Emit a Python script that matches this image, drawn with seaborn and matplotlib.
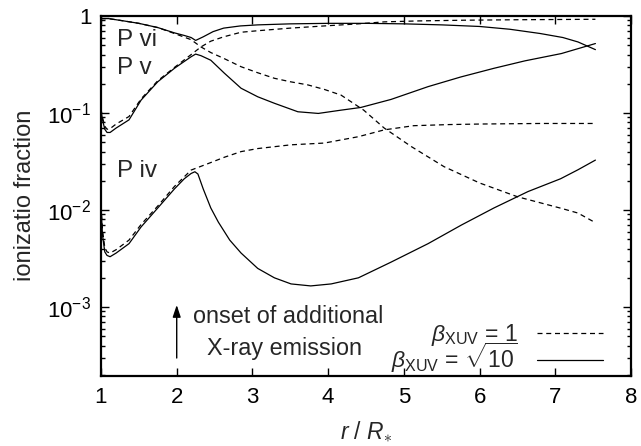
import numpy as np
import pandas as pd
import matplotlib
matplotlib.use("Agg")
import matplotlib.pyplot as plt
from matplotlib.lines import Line2D
from matplotlib.ticker import FixedLocator, LogLocator, NullFormatter
import seaborn as sns

# ---------------- data ----------------
# beta_XUV = sqrt(10)  (solid)
p6_s_r = [1.0, 1.1, 1.3, 1.5, 1.75, 1.97, 2.1, 2.19, 2.25, 2.35, 2.48, 2.62, 2.84, 3.07, 3.5,
          4.0, 4.5, 5.0, 5.5, 6.0, 6.4, 6.8, 7.1, 7.3, 7.53]
p6_s_f = [0.94, 0.94, 0.89, 0.84, 0.76, 0.67, 0.63, 0.60, 0.56, 0.61, 0.69, 0.75, 0.79, 0.81, 0.83,
          0.84, 0.84, 0.83, 0.81, 0.78, 0.73, 0.66, 0.60, 0.54, 0.45]

p5_s_r = [1.0, 1.02, 1.05, 1.08, 1.12, 1.2, 1.37, 1.53, 1.75, 1.97, 2.1, 2.19, 2.25, 2.32, 2.45,
          2.63, 2.85, 3.07, 3.29, 3.6, 3.87, 4.17, 4.43, 4.83, 5.32, 5.75, 6.19, 6.6, 7.08, 7.53]
p5_s_f = [0.107, 0.085, 0.068, 0.063, 0.063, 0.07, 0.085, 0.136, 0.21, 0.289, 0.34, 0.38, 0.405, 0.39, 0.35,
          0.257, 0.18, 0.147, 0.126, 0.103, 0.099, 0.107, 0.114, 0.138, 0.187, 0.235, 0.289, 0.345, 0.41, 0.52]

p4_s_r = [1.0, 1.02, 1.05, 1.08, 1.12, 1.2, 1.37, 1.53, 1.75, 1.97, 2.1, 2.19, 2.24, 2.28, 2.35, 2.45,
          2.55, 2.7, 2.85, 3.07, 3.29, 3.51, 3.77, 4.04, 4.4, 4.83, 5.32, 5.76, 6.19, 6.64, 7.07, 7.3, 7.53]
p4_s_f = [0.0105, 0.0055, 0.0037, 0.0034, 0.0033, 0.0036, 0.0045, 0.0067, 0.0105, 0.0165, 0.021, 0.0238, 0.0248, 0.0235, 0.0165, 0.0105,
          0.0075, 0.0049, 0.0036, 0.0025, 0.002, 0.00173, 0.00165, 0.00173, 0.002, 0.0029, 0.0045, 0.007, 0.0105, 0.0155, 0.021, 0.026, 0.0327]

# beta_XUV = 1  (dashed)
p6_d_r = [1.0, 1.1, 1.3, 1.5, 1.75, 1.97, 2.19, 2.32, 2.45, 2.62, 2.85, 3.07, 3.29, 3.5, 3.73, 3.95,
          4.17, 4.47, 4.74, 5.1, 5.53, 6.0, 6.5, 7.08, 7.3, 7.53]
p6_d_f = [0.94, 0.94, 0.89, 0.84, 0.76, 0.66, 0.57, 0.48, 0.42, 0.366, 0.30, 0.26, 0.228, 0.21, 0.195, 0.175,
          0.153, 0.107, 0.07, 0.045, 0.028, 0.019, 0.0137, 0.0104, 0.0093, 0.0074]

p5_d_r = [1.0, 1.02, 1.05, 1.08, 1.12, 1.2, 1.37, 1.53, 1.75, 1.97, 2.19, 2.32, 2.45, 2.62, 2.85, 3.07,
          3.5, 3.95, 4.4, 4.74, 5.2, 5.8, 6.5, 7.0, 7.53]
p5_d_f = [0.11, 0.09, 0.073, 0.068, 0.069, 0.077, 0.092, 0.14, 0.215, 0.295, 0.40, 0.48, 0.55, 0.61, 0.68, 0.705,
          0.75, 0.79, 0.83, 0.87, 0.89, 0.905, 0.915, 0.92, 0.925]

p4_d_r = [1.0, 1.02, 1.05, 1.08, 1.12, 1.2, 1.37, 1.53, 1.75, 1.97, 2.19, 2.41, 2.63, 2.85, 3.07, 3.51,
          3.95, 4.4, 4.74, 5.13, 5.6, 6.02, 6.8, 7.53]
p4_d_f = [0.011, 0.0062, 0.0041, 0.0037, 0.0036, 0.0039, 0.0049, 0.0071, 0.011, 0.0175, 0.0258, 0.030, 0.035, 0.040, 0.043, 0.047,
          0.049, 0.057, 0.067, 0.074, 0.076, 0.077, 0.078, 0.078]

ion_labels = ["P vi", "P v", "P iv"]
beta_labels = [r"$\beta_{\mathrm{XUV}}$ = 1", r"$\beta_{\mathrm{XUV}}$ = $\sqrt{10}$"]
x_ticks = [1, 2, 3, 4, 5, 6, 7, 8]
y_ticks = [1e-3, 1e-2, 1e-1, 1]
y_tick_labels = [r"$10^{-3}$", r"$10^{-2}$", r"$10^{-1}$", "1"]

# ---------------- build table ----------------
rows = []
def add(r, f, ion, beta):
    for a, b in zip(r, f):
        rows.append({"r": a, "frac": b, "ion": ion, "beta": beta})

add(p6_s_r, p6_s_f, "P vi", "sqrt10")
add(p5_s_r, p5_s_f, "P v", "sqrt10")
add(p4_s_r, p4_s_f, "P iv", "sqrt10")
add(p6_d_r, p6_d_f, "P vi", "one")
add(p5_d_r, p5_d_f, "P v", "one")
add(p4_d_r, p4_d_f, "P iv", "one")
df = pd.DataFrame(rows)

# ---------------- style ----------------
sns.set_theme(style="ticks")
plt.rcParams["font.family"] = ["Liberation Sans", "DejaVu Sans"]
plt.rcParams["mathtext.fontset"] = "custom"
plt.rcParams["mathtext.rm"] = "Liberation Sans"
plt.rcParams["mathtext.it"] = "Liberation Sans:italic"
plt.rcParams["mathtext.bf"] = "Liberation Sans:bold"

fig = plt.figure(figsize=(6.41, 4.46), dpi=100)
ax = fig.add_axes([101 / 641, 1 - 375.5 / 446, 530 / 641, 359.5 / 446])

dash_pat = (4, 3)
sns.lineplot(data=df, x="r", y="frac", units="ion", style="beta",
             dashes={"sqrt10": "", "one": dash_pat}, estimator=None,
             color="black", linewidth=0.9, ax=ax, legend=False, sort=True)

ax.set_yscale("log")
ax.set_xlim(1, 8)
ax.set_ylim(10 ** -3.706, 1)

ax.xaxis.set_major_locator(FixedLocator(x_ticks))
ax.set_xticklabels([str(t) for t in x_ticks])
ax.yaxis.set_major_locator(FixedLocator(y_ticks))
ax.set_yticklabels(y_tick_labels)
ax.yaxis.set_minor_locator(LogLocator(base=10, subs=np.arange(2, 10), numticks=20))
ax.yaxis.set_minor_formatter(NullFormatter())

ax.tick_params(which="both", direction="in", top=True, right=True, colors="black",
               labelsize=16, width=1.0)
ax.tick_params(which="major", length=5.5, pad=7)
ax.tick_params(which="minor", length=3)
ax.tick_params(axis="x", pad=8)
for sp in ax.spines.values():
    sp.set_linewidth(1.6)
    sp.set_color("black")

ax.set_xlabel(r"$r$ / $R_{\ast}$", fontsize=16.5, labelpad=8)
ax.set_ylabel("ionizatio fraction", fontsize=17, labelpad=8)

# ion labels
ax.text(1.21, 10 ** (-(46 - 16) / 97), "P vi", fontsize=17.5, ha="left", va="baseline")
ax.text(1.21, 10 ** (-(74 - 16) / 97), "P v", fontsize=17.5, ha="left", va="baseline")
ax.text(1.21, 10 ** (-(177 - 16) / 97), "P iv", fontsize=17.5, ha="left", va="baseline")

# annotation
ax.annotate("", xy=(2.0, 1.05e-3), xytext=(2.0, 2.98e-4),
            arrowprops=dict(arrowstyle="-|>,head_length=0.6,head_width=0.2",
                            color="black", lw=1.0, shrinkA=0, shrinkB=0))
ax.text(3.47, 10 ** (-(323 - 16) / 97), "onset of additional", fontsize=16.8,
        ha="center", va="baseline")
ax.text(3.43, 10 ** (-(355 - 16) / 97), "X-ray emission", fontsize=16.8,
        ha="center", va="baseline")

# legend
handles = [Line2D([], [], color="black", lw=0.9, dashes=dash_pat),
           Line2D([], [], color="black", lw=0.9)]
leg = ax.legend(handles, beta_labels, loc="lower right", frameon=False,
                markerfirst=False, fontsize=16.5, handlelength=2.9, handletextpad=0.8,
                labelspacing=-0.34, borderpad=0, borderaxespad=0,
                bbox_to_anchor=((603 - 101) / 530, (375.5 - 375) / 359.5))

fig.savefig("out.png", dpi=100)
